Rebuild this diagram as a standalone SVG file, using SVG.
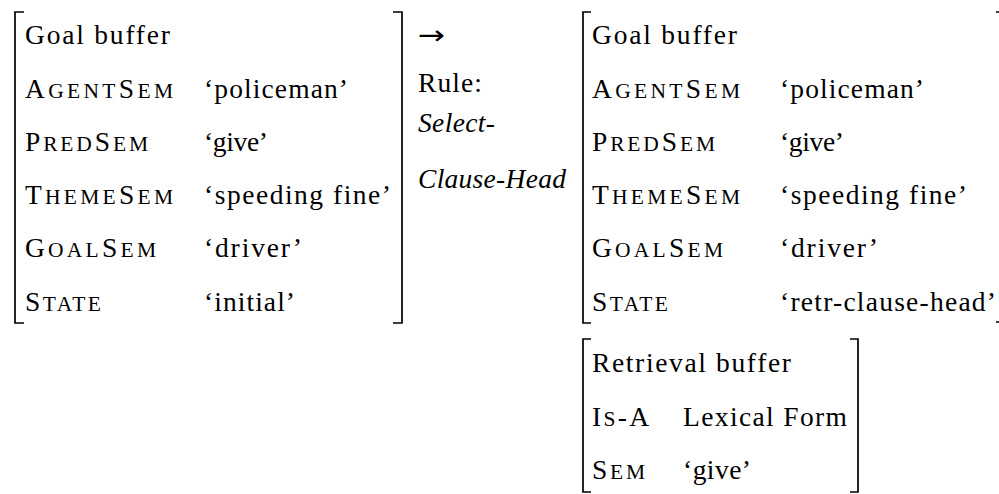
<svg xmlns="http://www.w3.org/2000/svg" width="999" height="494" viewBox="0 0 999 494">
<style>
text{font-family:"Liberation Serif","Times New Roman",serif;font-size:27.5px;fill:#000}
.sc{font-size:21.5px}
.it{font-style:italic}
.br{fill:none;stroke:#000;stroke-width:1.7}
</style>
<rect width="999" height="494" fill="#fff"/>
<g id="goal-before">
<path class="br" d="M24,12H15V323H24"/>
<path class="br" d="M393,12H402V323H393"/>
<text x="25" y="44" textLength="145" lengthAdjust="spacing">Goal buffer</text>
<text x="25" y="97.5" textLength="148" lengthAdjust="spacing">A<tspan class="sc">GENT</tspan>S<tspan class="sc">EM</tspan></text>
<text x="204" y="97.5" textLength="144" lengthAdjust="spacing">‘policeman’</text>
<text x="25" y="150.5" textLength="123" lengthAdjust="spacing">P<tspan class="sc">RED</tspan>S<tspan class="sc">EM</tspan></text>
<text x="204" y="150.5" textLength="64" lengthAdjust="spacing">‘give’</text>
<text x="25" y="204" textLength="148" lengthAdjust="spacing">T<tspan class="sc">HEME</tspan>S<tspan class="sc">EM</tspan></text>
<text x="204" y="204" textLength="187" lengthAdjust="spacing">‘speeding fine’</text>
<text x="25" y="257" textLength="131" lengthAdjust="spacing">G<tspan class="sc">OAL</tspan>S<tspan class="sc">EM</tspan></text>
<text x="204" y="257" textLength="98" lengthAdjust="spacing">‘driver’</text>
<text x="25" y="310.5" textLength="76" lengthAdjust="spacing">S<tspan class="sc">TATE</tspan></text>
<text x="204" y="310.5" textLength="91" lengthAdjust="spacing">‘initial’</text>
</g>
<g id="connectors">
<text transform="translate(418,44) scale(1.25,1)" style="font-family:'DejaVu Sans',sans-serif;font-size:26px">→</text>
</g>
<g id="rule">
<text x="418" y="92" textLength="64" lengthAdjust="spacing">Rule:</text>
<text x="418" y="132" class="it" textLength="77" lengthAdjust="spacing">Select-</text>
<text x="418" y="188" class="it" textLength="148" lengthAdjust="spacing">Clause-Head</text>
</g>
<g id="goal-after">
<path class="br" d="M591,12H583V323H591"/>
<path class="br" d="M996,12H1001V322H996"/>
<text x="592" y="44" textLength="145" lengthAdjust="spacing">Goal buffer</text>
<text x="592" y="97.5" textLength="148" lengthAdjust="spacing">A<tspan class="sc">GENT</tspan>S<tspan class="sc">EM</tspan></text>
<text x="780" y="97.5" textLength="144" lengthAdjust="spacing">‘policeman’</text>
<text x="592" y="150.5" textLength="123" lengthAdjust="spacing">P<tspan class="sc">RED</tspan>S<tspan class="sc">EM</tspan></text>
<text x="780" y="150.5" textLength="64" lengthAdjust="spacing">‘give’</text>
<text x="592" y="204" textLength="148" lengthAdjust="spacing">T<tspan class="sc">HEME</tspan>S<tspan class="sc">EM</tspan></text>
<text x="780" y="204" textLength="187" lengthAdjust="spacing">‘speeding fine’</text>
<text x="592" y="257" textLength="131" lengthAdjust="spacing">G<tspan class="sc">OAL</tspan>S<tspan class="sc">EM</tspan></text>
<text x="780" y="257" textLength="98" lengthAdjust="spacing">‘driver’</text>
<text x="592" y="310.5" textLength="76" lengthAdjust="spacing">S<tspan class="sc">TATE</tspan></text>
<text x="780" y="310.5" textLength="216" lengthAdjust="spacing">‘retr-clause-head’</text>
</g>
<g id="retrieval">
<path class="br" d="M591,339H583V492H591"/>
<path class="br" d="M850,339H858V492H850"/>
<text x="592" y="372" textLength="199" lengthAdjust="spacing">Retrieval buffer</text>
<text x="592" y="426" textLength="57" lengthAdjust="spacing">I<tspan class="sc">S</tspan>-A</text>
<text x="683" y="426" textLength="164" lengthAdjust="spacing">Lexical Form</text>
<text x="592" y="478.5" textLength="53" lengthAdjust="spacing">S<tspan class="sc">EM</tspan></text>
<text x="683" y="478.5" textLength="68" lengthAdjust="spacing">‘give’</text>
</g>
</svg>
